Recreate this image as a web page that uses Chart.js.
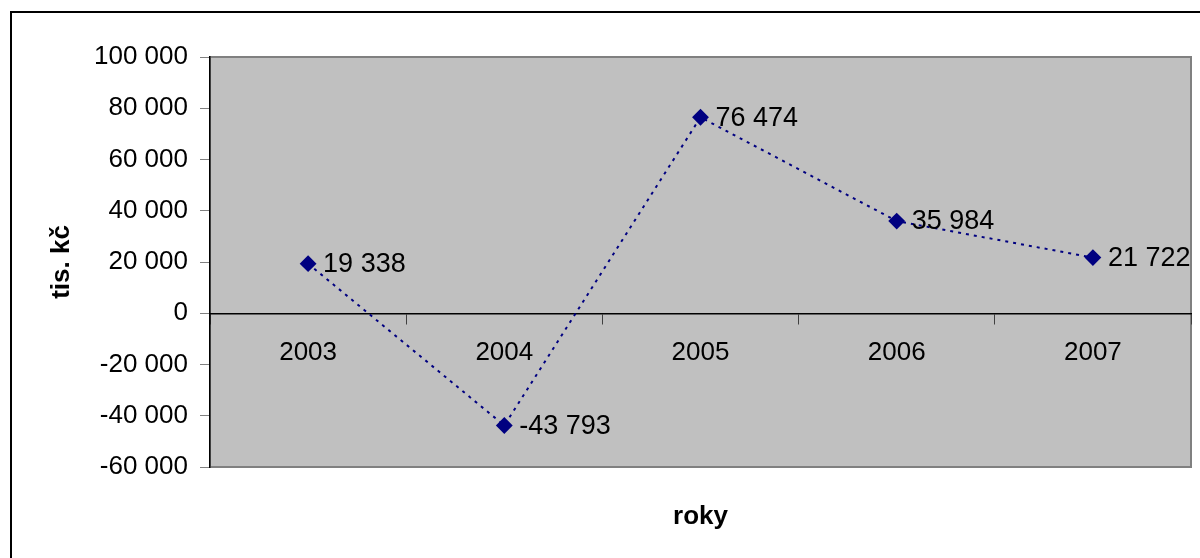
<!DOCTYPE html>
<html>
<head>
<meta charset="utf-8">
<script src="https://cdn.jsdelivr.net/npm/chart.js@4"></script>
<style>
  html, body { margin: 0; padding: 0; background: #fff; }
  #wrap { width: 1200px; height: 558px; position: relative; }
</style>
</head>
<body>
<div id="wrap"><canvas id="chart"></canvas></div>
<script>
// Data
const years = ['2003', '2004', '2005', '2006', '2007'];
const values = [19338, -43793, 76474, 35984, 21722];
const yTicks = [-60000, -40000, -20000, 0, 20000, 40000, 60000, 80000, 100000];

const FONT = 'Liberation Sans, Arial, sans-serif';

function fmt(v) {
    const s = Math.abs(v).toString().replace(/\B(?=(\d{3})+(?!\d))/g, ' ');
    return (v < 0 ? '-' : '') + s;
}

// Frame, plot background, axis titles and value labels
const decor = {
    id: 'decor',
    beforeDraw(chart) {
        const { ctx, chartArea: a } = chart;
        ctx.save();
        ctx.fillStyle = '#fff';
        ctx.fillRect(0, 0, chart.width, chart.height);
        ctx.lineWidth = 2;
        ctx.strokeStyle = '#000';
        ctx.strokeRect(11, 12, 1300, 700);
        ctx.fillStyle = '#c0c0c0';
        ctx.fillRect(a.left, a.top, a.right - a.left, a.bottom - a.top);
        ctx.lineWidth = 2;
        ctx.strokeStyle = '#808080';
        ctx.strokeRect(a.left, a.top, a.right - a.left, a.bottom - a.top);
        ctx.restore();
    },
    afterDraw(chart) {
        const { ctx, chartArea: a } = chart;
        ctx.save();
        ctx.fillStyle = '#000';
        ctx.font = 'bold 26px ' + FONT;
        ctx.textAlign = 'center';
        ctx.textBaseline = 'middle';
        ctx.fillText('roky', (a.left + a.right) / 2, 517);
        ctx.save();
        ctx.translate(62, (a.top + a.bottom) / 2);
        ctx.rotate(-Math.PI / 2);
        ctx.fillText('tis. kč', 0, 0);
        ctx.restore();
        // value labels
        ctx.font = '27px ' + FONT;
        ctx.textAlign = 'left';
        const meta = chart.getDatasetMeta(0);
        meta.data.forEach((pt, i) => {
            ctx.fillText(fmt(values[i]), pt.x + 15, pt.y + 1);
        });
        ctx.restore();
    }
};

new Chart(document.getElementById('chart'), {
    type: 'line',
    data: {
        labels: years,
        datasets: [{
            data: values,
            borderColor: '#000080',
            backgroundColor: '#000080',
            borderWidth: 2,
            borderDash: [3, 5],
            pointStyle: 'rectRot',
            pointRadius: 7,
            pointHoverRadius: 7,
            tension: 0
        }]
    },
    options: {
        responsive: true,
        maintainAspectRatio: false,
        animation: false,
        layout: { padding: { left: 0, top: 57, right: 7, bottom: 91 } },
        plugins: {
            legend: { display: false },
            tooltip: { enabled: false }
        },
        scales: {
            x: {
                type: 'category',
                offset: true,
                position: { y: 0 },
                grid: {
                    offset: true,
                    drawOnChartArea: false,
                    drawTicks: true,
                    tickLength: 10,
                    color: '#404040'
                },
                border: { color: '#000', width: 1.5 },
                ticks: {
                    color: '#000',
                    font: { family: FONT, size: 26 },
                    padding: 14,
                    maxRotation: 0
                }
            },
            y: {
                min: -60000,
                max: 100000,
                afterBuildTicks(scale) {
                    scale.ticks = yTicks.map(v => ({ value: v }));
                },
                afterFit(scale) { scale.width = 210; },
                grid: {
                    drawOnChartArea: false,
                    drawTicks: true,
                    tickLength: 10,
                    color: '#808080'
                },
                border: { color: '#000', width: 1.5 },
                ticks: {
                    color: '#000',
                    font: { family: FONT, size: 26 },
                    padding: 12,
                    callback: v => fmt(v)
                }
            }
        }
    },
    plugins: [decor]
});
</script>
</body>
</html>
